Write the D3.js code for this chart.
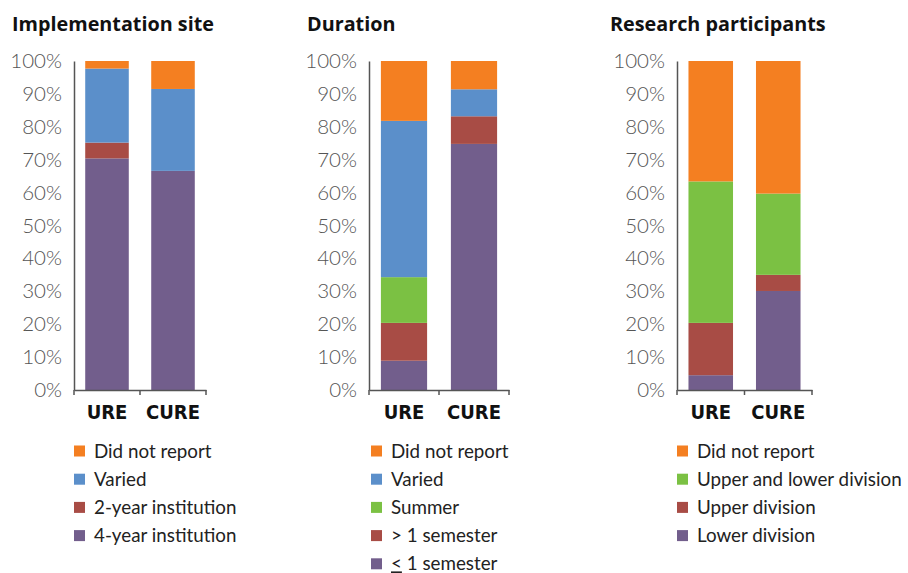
<!DOCTYPE html>
<html>
<head>
<meta charset="utf-8">
<script src="https://cdn.jsdelivr.net/npm/d3@7"></script>
<style>
  body { margin: 0; background: #fff; }
  .title { font-family: "Open Sans", sans-serif; font-weight: 700; font-size: 19.8px; fill: #111; }
  .ytick text { font-family: Lato, sans-serif; font-weight: 300; font-size: 20.5px; fill: #555; }
  .xlab { font-family: "DejaVu Sans", sans-serif; font-stretch: condensed; font-weight: 700; font-size: 20px; fill: #111; }
  .legend text { font-family: Lato, sans-serif; font-size: 18.8px; fill: #222; }
</style>
</head>
<body>
<svg id="chart" width="908" height="573"></svg>
<script>
// categories and values (percent of studies)
var groups = ["URE", "CURE"];
var yTicks = [0, 10, 20, 30, 40, 50, 60, 70, 80, 90, 100];

var siteKeys = ["4-year institution", "2-year institution", "Varied", "Did not report"];
var siteURE = [70.4, 4.8, 22.5, 2.3];
var siteCURE = [66.6, 0, 24.9, 8.5];

var durKeys = ["≤ 1 semester", "> 1 semester", "Summer", "Varied", "Did not report"];
var durURE = [8.9, 11.5, 13.9, 47.5, 18.2];
var durCURE = [74.8, 8.4, 0, 8.2, 8.6];

var partKeys = ["Lower division", "Upper division", "Upper and lower division", "Did not report"];
var partURE = [4.5, 15.9, 43.0, 36.6];
var partCURE = [30.1, 4.9, 24.7, 40.3];

var colors = {
  "Did not report": "#f47f21",
  "Varied": "#5b8fca",
  "Summer": "#7bc143",
  "Upper and lower division": "#7bc143",
  "2-year institution": "#a84c45",
  "> 1 semester": "#a84c45",
  "Upper division": "#a84c45",
  "4-year institution": "#725e8c",
  "≤ 1 semester": "#725e8c",
  "Lower division": "#725e8c"
};

var panels = [
  { title: "Implementation site", keys: siteKeys, vals: [siteURE, siteCURE], tx: 12, x0: 74, x1: 206, lx: 74 },
  { title: "Duration", keys: durKeys, vals: [durURE, durCURE], tx: 307, x0: 369, x1: 509, lx: 371 },
  { title: "Research participants", keys: partKeys, vals: [partURE, partCURE], tx: 610, x0: 677, x1: 812, lx: 677 }
];

var svg = d3.select("#chart");
var y = d3.scaleLinear().domain([0, 100]).range([390, 61]);

panels.forEach(function(p) {
  var g = svg.append("g");

  g.append("text").attr("class", "title")
    .attr("x", p.tx).attr("y", 31).text(p.title);

  var x = d3.scaleBand().domain(groups).range([p.x0, p.x1]).padding(0);
  var bw = x.bandwidth() * 0.66;

  // rows for d3.stack
  var rows = groups.map(function(gr, i) {
    var r = { group: gr };
    p.keys.forEach(function(k, j) { r[k] = p.vals[i][j]; });
    return r;
  });
  var series = d3.stack().keys(p.keys)(rows);

  g.selectAll(".layer")
    .data(series)
    .enter().append("g")
      .attr("fill", function(d) { return colors[d.key]; })
    .selectAll("rect")
    .data(function(d) { return d; })
    .enter().append("rect")
      .attr("x", function(d) { return x(d.data.group) + (x.bandwidth() - bw) / 2; })
      .attr("width", bw)
      .attr("y", function(d) { return y(d[1]); })
      .attr("height", function(d) { return y(d[0]) - y(d[1]); });

  // y axis
  var ya = g.append("g")
    .attr("transform", "translate(" + p.x0 + ",0)")
    .call(d3.axisLeft(y).tickValues(yTicks).tickSize(0).tickPadding(12)
      .tickFormat(function(d) { return d + "%"; }));
  ya.selectAll(".tick").attr("class", "tick ytick");
  ya.select(".domain").attr("stroke", "#555").attr("stroke-width", 1.5);

  // x axis
  var xa = g.append("g")
    .attr("transform", "translate(0,390)")
    .call(d3.axisBottom(x).tickSize(0).tickPadding(15).tickSizeOuter(0));
  xa.select(".domain").attr("stroke", "#555").attr("stroke-width", 1.5);
  xa.selectAll("text").attr("class", "xlab").attr("dy", "0.71em");
  var edges = groups.map(function(gr) { return x(gr); }).concat([p.x1]);
  xa.selectAll(".edge").data(edges).enter().append("line")
    .attr("x1", function(d) { return d; }).attr("x2", function(d) { return d; })
    .attr("y1", 0).attr("y2", 5)
    .attr("stroke", "#555").attr("stroke-width", 1.5);

  // legend, top layer first
  var lg = g.append("g").attr("class", "legend");
  var items = p.keys.slice().reverse();
  var li = lg.selectAll("g").data(items).enter().append("g")
    .attr("transform", function(d, i) { return "translate(" + p.lx + "," + (451 + i * 28.2) + ")"; });
  li.append("rect").attr("x", 0).attr("y", -5.5).attr("width", 11).attr("height", 11)
    .attr("fill", function(d) { return colors[d]; });
  li.append("text").attr("x", 20).attr("dy", "0.35em")
    .each(function(d) {
      var t = d3.select(this);
      if (d.charAt(0) === "≤") {
        // drawn as an underlined "<", as in the source figure
        t.append("tspan").attr("text-decoration", "underline").text("<");
        t.append("tspan").text(d.slice(1));
      } else {
        t.text(d);
      }
    });
});
</script>
</body>
</html>
